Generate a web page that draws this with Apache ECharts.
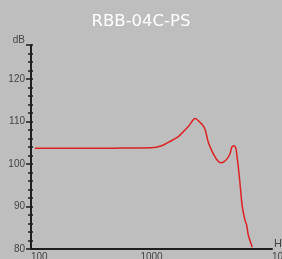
<!DOCTYPE html>
<html>
<head>
<meta charset="utf-8">
<style>
  html, body { margin: 0; padding: 0; background: #bebebe; }
  #chart { width: 282px; height: 259px; }
</style>
<script src="https://cdn.jsdelivr.net/npm/echarts@6/dist/echarts.min.js"></script>
</head>
<body>
<div id="chart"></div>
<script>
// frequency response
const freqHz = [108, 200, 374, 600, 1004, 1215, 1424, 1660, 1724, 2020, 2296, 2610, 2780, 2960, 3258, 3584, 3824, 4208, 4483, 4629, 4837, 5025, 5093, 5253, 5426, 5670, 5970, 6166, 6357, 6862]
const levelDb = [103.7, 103.7, 103.7, 103.75, 103.8, 104.3, 105.3, 106.4, 106.8, 108.8, 110.7, 109.4, 108.2, 105.1, 102.4, 100.6, 100.3, 101.1, 102.4, 103.9, 104.3, 103.6, 102.4, 99.3, 95.4, 89.9, 86.8, 85.6, 83.3, 80.4]
const xTicks = [100, 1000, 10000]
const yTicks = [80, 90, 100, 110, 120]

const chart = echarts.init(document.getElementById('chart'))

const axisColor = '#1e1e1e'
const labelFont = 'Liberation Sans'

chart.setOption({
  backgroundColor: '#bebebe',
  animation: false,
  title: {
    text: 'RBB-04C-PS',
    left: 'center',
    top: 8,
    textStyle: {
      color: '#ffffff',
      fontFamily: 'DejaVu Sans',
      fontWeight: 'normal',
      fontSize: 16.5
    }
  },
  grid: {
    left: 31,
    right: 10,
    top: 45,
    bottom: 10,
    outerBoundsMode: 'none'
  },
  xAxis: {
    type: 'log',
    logBase: 10,
    min: 100,
    max: 10000,
    name: 'Hz',
    nameLocation: 'end',
    nameGap: 2,
    nameTextStyle: {
      color: '#444',
      fontFamily: labelFont,
      fontSize: 11,
      align: 'left',
      verticalAlign: 'bottom'
    },
    axisLine: { lineStyle: { color: axisColor, width: 2 } },
    axisTick: { show: false },
    splitLine: { show: false },
    axisLabel: {
      color: '#444',
      fontFamily: labelFont,
      fontSize: 10,
      margin: 3,
      alignMinLabel: 'left',
      alignMaxLabel: 'left',
      formatter: v => (xTicks.indexOf(Math.round(v)) > -1 ? String(Math.round(v)) : '')
    }
  },
  yAxis: [{
    type: 'value',
    min: 80,
    max: 128,
    interval: 10,
    name: 'dB',
    nameLocation: 'end',
    nameGap: 5,
    nameTextStyle: {
      color: '#444',
      fontFamily: labelFont,
      fontSize: 10,
      align: 'right',
      verticalAlign: 'middle',
      padding: [0, 6, 0, 0]
    },
    axisLine: { show: true, lineStyle: { color: axisColor, width: 2 } },
    axisTick: { show: true, length: 5, lineStyle: { color: axisColor, width: 1.5 } },
    minorTick: { show: true, splitNumber: 5, length: 3, lineStyle: { color: axisColor, width: 1.5 } },
    splitLine: { show: false },
    axisLabel: {
      color: '#444',
      fontFamily: labelFont,
      fontSize: 10,
      margin: 6,
      formatter: v => (yTicks.indexOf(v) > -1 ? String(v) : '')
    }
  }, {
    // second copy of the y axis only to make the ticks cross the line
    type: 'value',
    position: 'left',
    min: 80,
    max: 128,
    interval: 10,
    axisLine: { show: false },
    axisTick: { show: true, inside: true, length: 2, lineStyle: { color: axisColor, width: 1.5 } },
    minorTick: { show: true, splitNumber: 5, length: 2, lineStyle: { color: axisColor, width: 1.5 } },
    splitLine: { show: false },
    axisLabel: { show: false }
  }],
  series: [{
    type: 'line',
    yAxisIndex: 0,
    data: freqHz.map((f, i) => [f, levelDb[i]]),
    showSymbol: false,
    smooth: 0.25,
    lineStyle: { color: '#dd2222', width: 1.5 },
    itemStyle: { color: '#dd2222' }
  }]
})
</script>
</body>
</html>
